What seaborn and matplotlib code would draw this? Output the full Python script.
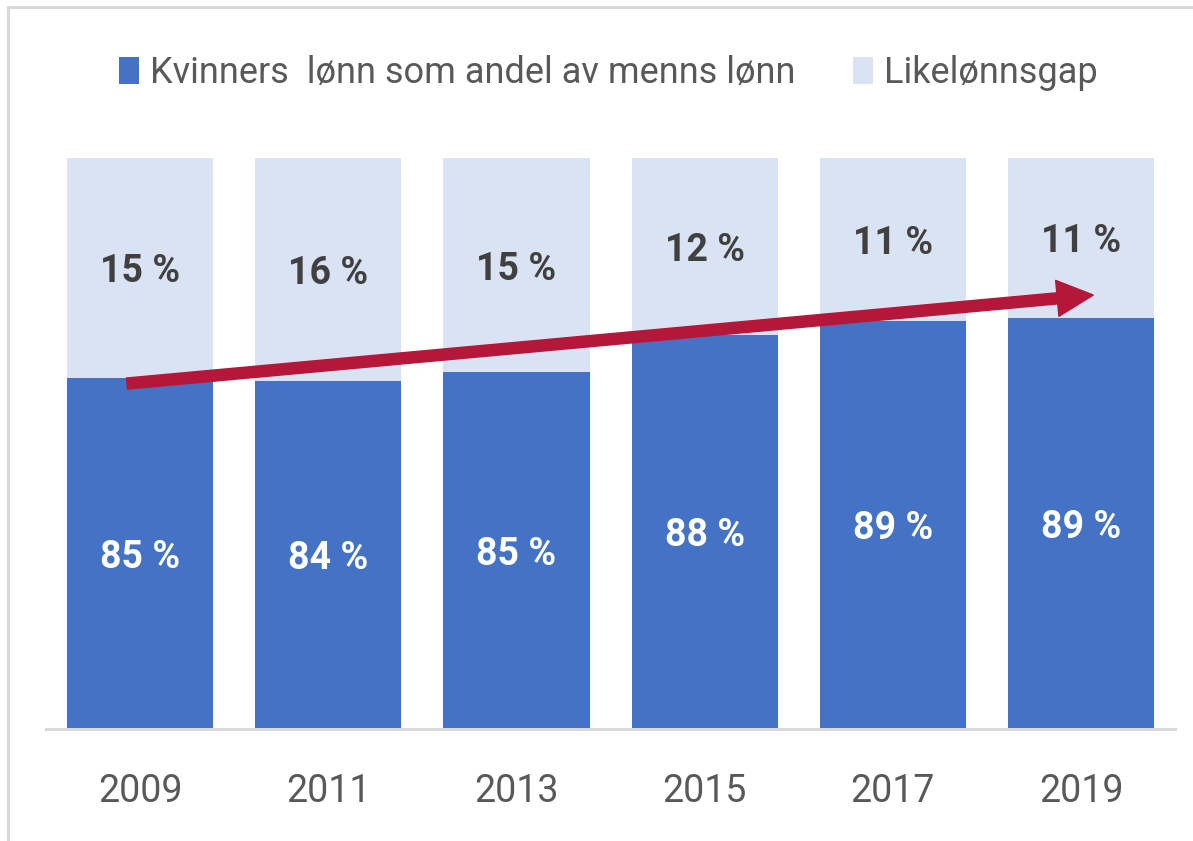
import matplotlib
matplotlib.use("Agg")
import matplotlib.pyplot as plt
from matplotlib import font_manager
from matplotlib.patches import Patch
from matplotlib.lines import Line2D
import seaborn as sns
import pandas as pd

years = ["2009", "2011", "2013", "2015", "2017", "2019"]
women_share = [84.6, 84.4, 85.0, 87.6, 88.6, 88.8]
women_labels = ["85 %", "84 %", "85 %", "88 %", "89 %", "89 %"]
gap_labels = ["15 %", "16 %", "15 %", "12 %", "11 %", "11 %"]
total = [100, 100, 100, 100, 100, 100]
legend_labels = ["Kvinners  lønn som andel av menns lønn", "Likelønnsgap"]
arrow_start = (-0.07, 84.2)
arrow_end = (5.065, 90.4)

sns.set_theme(style="white")
avail = {f.name for f in font_manager.fontManager.ttflist}
fam = "Liberation Sans Narrow" if "Liberation Sans Narrow" in avail else "Roboto"
plt.rcParams["font.family"] = [fam, "DejaVu Sans"]

DARK = "#4472C4"
LIGHT = "#DAE3F3"

df = pd.DataFrame({"year": years, "women": women_share, "total": total})

fig = plt.figure(figsize=(11.93, 8.41), dpi=100)
ax = fig.add_axes([0.0386, 0.1332, 0.9464, 0.6789])

sns.barplot(data=df, x="year", y="total", color=LIGHT, width=0.776,
            saturation=1, ax=ax, edgecolor="none")
sns.barplot(data=df, x="year", y="women", color=DARK, width=0.776,
            saturation=1, ax=ax, edgecolor="none")

ax.set_ylim(60, 100)
ax.set_xlim(-0.5, 5.5)
ax.set_xlabel("")
ax.set_ylabel("")
ax.set_yticks([])
for s in ["left", "right", "top"]:
    ax.spines[s].set_visible(False)
ax.spines["bottom"].set_color("#d9d9d9")
ax.spines["bottom"].set_linewidth(2.2)
ax.tick_params(axis="x", length=0, pad=32, labelsize=27, labelcolor="#595959")

for i, v in enumerate(women_share):
    ax.text(i, (60 + v) / 2, women_labels[i], ha="center", va="center_baseline",
            color="white", fontsize=27, fontweight="semibold")
    ax.text(i, (v + 100) / 2, gap_labels[i], ha="center", va="center_baseline",
            color="#404040", fontsize=27, fontweight="semibold")

ax.annotate("", xy=arrow_end, xytext=arrow_start,
            arrowprops=dict(arrowstyle="simple,head_length=1.3,head_width=1.3,tail_width=0.4",
                            color="#B5173A", shrinkA=0, shrinkB=0, mutation_scale=20),
            annotation_clip=False)

handles = [Patch(facecolor=DARK, edgecolor="none"), Patch(facecolor=LIGHT, edgecolor="none")]
leg = fig.legend(handles, legend_labels, loc="center", bbox_to_anchor=(0.51, 0.913),
                 ncol=2, frameon=False, fontsize=26, handlelength=0.55, handleheight=0.8,
                 handletextpad=0.3, columnspacing=1.6, labelcolor="#595959")

# outer frame
fig.add_artist(Line2D([0.0067, 0.0067], [0, 0.9917], color="#d9d9d9", lw=2.2,
                      transform=fig.transFigure))
fig.add_artist(Line2D([0.0067, 1.0], [0.9917, 0.9917], color="#d9d9d9", lw=2.2,
                      transform=fig.transFigure))

fig.savefig("out.png", dpi=100)
